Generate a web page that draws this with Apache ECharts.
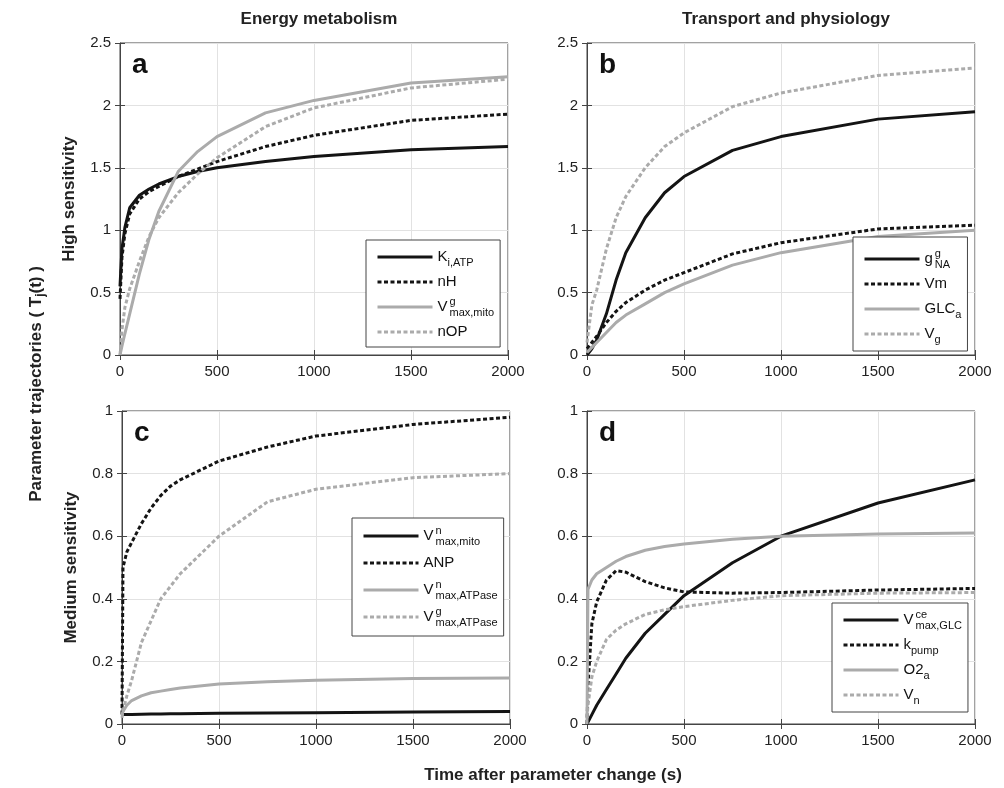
<!DOCTYPE html>
<html>
<head>
<meta charset="utf-8">
<script src="https://cdn.jsdelivr.net/npm/echarts@6/dist/echarts.min.js"></script>
<style>
  html, body { margin: 0; padding: 0; background: #fff; }
  #chart { width: 1004px; height: 788px; }
</style>
</head>
<body>
<div id="chart"></div>
<script>
// ---- data ----

// a: energy metabolism, high sensitivity
const timeA = [0, 10, 25, 50, 100, 150, 200, 300, 400, 500, 750, 1000, 1500, 2000];
const kiATP = [0.55, 0.85, 1.02, 1.18, 1.28, 1.33, 1.37, 1.43, 1.47, 1.50, 1.55, 1.59, 1.645, 1.67];
const nH = [0.45, 0.78, 0.97, 1.13, 1.25, 1.31, 1.35, 1.43, 1.49, 1.55, 1.67, 1.76, 1.88, 1.93];
const vgMaxMito = [0, 0.07, 0.17, 0.33, 0.65, 0.93, 1.15, 1.47, 1.63, 1.75, 1.94, 2.04, 2.18, 2.23];
const nOP = [0, 0.2, 0.38, 0.53, 0.75, 0.95, 1.1, 1.3, 1.45, 1.58, 1.83, 1.98, 2.14, 2.21];

// b: transport and physiology, high sensitivity
const timeB = [0, 25, 50, 100, 150, 200, 300, 400, 500, 750, 1000, 1500, 2000];
const ggNA = [0, 0.05, 0.12, 0.33, 0.6, 0.82, 1.1, 1.3, 1.43, 1.64, 1.75, 1.89, 1.95];
const vm = [0.05, 0.1, 0.15, 0.26, 0.35, 0.42, 0.52, 0.6, 0.66, 0.81, 0.90, 1.01, 1.04];
const glcA = [0.02, 0.06, 0.1, 0.18, 0.26, 0.32, 0.41, 0.5, 0.57, 0.72, 0.82, 0.95, 1.0];
const vG = [0.1, 0.4, 0.52, 0.85, 1.1, 1.27, 1.5, 1.67, 1.78, 1.99, 2.10, 2.24, 2.30];

// c: energy metabolism, medium sensitivity
const timeC = [0, 5, 25, 50, 100, 150, 200, 250, 300, 500, 750, 1000, 1500, 2000];
const vnMaxMito = [0.03, 0.03, 0.03, 0.03, 0.031, 0.032, 0.032, 0.033, 0.033, 0.034, 0.035, 0.036, 0.038, 0.04];
const anp = [0.03, 0.5, 0.55, 0.58, 0.64, 0.69, 0.73, 0.76, 0.78, 0.84, 0.885, 0.92, 0.957, 0.98];
const vnMaxATPase = [0.03, 0.04, 0.06, 0.075, 0.09, 0.1, 0.105, 0.11, 0.115, 0.128, 0.135, 0.14, 0.145, 0.147];
const vgMaxATPase = [0.02, 0.04, 0.09, 0.14, 0.26, 0.33, 0.40, 0.44, 0.48, 0.60, 0.71, 0.75, 0.787, 0.80];

// d: transport and physiology, medium sensitivity
const timeD = [0, 5, 25, 50, 100, 150, 200, 300, 400, 500, 750, 1000, 1500, 2000];
const vceMaxGLC = [0, 0.005, 0.03, 0.06, 0.11, 0.16, 0.21, 0.29, 0.35, 0.41, 0.515, 0.60, 0.706, 0.78];
const kPump = [0, 0.12, 0.32, 0.39, 0.46, 0.49, 0.485, 0.455, 0.435, 0.422, 0.418, 0.42, 0.428, 0.433];
const o2A = [0, 0.43, 0.46, 0.48, 0.50, 0.52, 0.535, 0.555, 0.567, 0.575, 0.59, 0.60, 0.607, 0.61];
const vN = [0.02, 0.06, 0.15, 0.2, 0.27, 0.3, 0.32, 0.35, 0.365, 0.375, 0.395, 0.41, 0.418, 0.42];

// ---- styling ----
const FONT = 'Liberation Sans, Arial, sans-serif';
const BLACK = '#141414';
const GRAY = '#ababab';
const DOT = [4, 2.5];

const styles = {
    blackSolid: { color: BLACK, width: 3, type: 'solid' },
    blackDot: { color: BLACK, width: 3, type: DOT },
    graySolid: { color: GRAY, width: 3, type: 'solid' },
    grayDot: { color: GRAY, width: 3, type: DOT }
};

// legend labels (rich text for sub/superscripts)
const labels = {
    'Ki,ATP': 'K{sub|i,ATP}',
    'nH': 'nH',
    'Vg max,mito': 'V{sup|g}{sub|max,mito}',
    'nOP': 'nOP',
    'gg NA': 'g{sup|g}{sub|NA}',
    'Vm': 'Vm',
    'GLCa': 'GLC{sub|a}',
    'Vg': 'V{sub|g}',
    'Vn max,mito': 'V{sup|n}{sub|max,mito}',
    'ANP': 'ANP',
    'Vn max,ATPase': 'V{sup|n}{sub|max,ATPase}',
    'Vg max,ATPase': 'V{sup|g}{sub|max,ATPase}',
    'Vce max,GLC': 'V{sup|ce}{sub|max,GLC}',
    'kpump': 'k{sub|pump}',
    'O2a': 'O2{sub|a}',
    'Vn': 'V{sub|n}'
};

const panels = [
    { grid: { left: 120, top: 43, width: 388, height: 312 }, yMax: 2.5, yStep: 0.5, yName: 'High sensitivity',
      legend: { left: 366, top: 240, gap: 3, padding: [6, 6, 4, 10] }, time: timeA,
      series: [['Ki,ATP', kiATP, 'blackSolid'], ['nH', nH, 'blackDot'], ['Vg max,mito', vgMaxMito, 'graySolid'], ['nOP', nOP, 'grayDot']] },
    { grid: { left: 587, top: 43, width: 388, height: 312 }, yMax: 2.5, yStep: 0.5, yName: '',
      legend: { left: 853, top: 237, gap: 3, padding: [11, 6, 6, 10] }, time: timeB,
      series: [['gg NA', ggNA, 'blackSolid'], ['Vm', vm, 'blackDot'], ['GLCa', glcA, 'graySolid'], ['Vg', vG, 'grayDot']] },
    { grid: { left: 122, top: 411, width: 388, height: 313 }, yMax: 1, yStep: 0.2, yName: 'Medium sensitivity',
      legend: { left: 352, top: 518, gap: 5, padding: [7, 6, 8, 10] }, time: timeC,
      series: [['Vn max,mito', vnMaxMito, 'blackSolid'], ['ANP', anp, 'blackDot'], ['Vn max,ATPase', vnMaxATPase, 'graySolid'], ['Vg max,ATPase', vgMaxATPase, 'grayDot']] },
    { grid: { left: 587, top: 411, width: 388, height: 313 }, yMax: 1, yStep: 0.2, yName: '',
      legend: { left: 832, top: 603, gap: 3, padding: [6, 6, 6, 10] }, time: timeD,
      series: [['Vce max,GLC', vceMaxGLC, 'blackSolid'], ['kpump', kPump, 'blackDot'], ['O2a', o2A, 'graySolid'], ['Vn', vN, 'grayDot']] }
];

const axisLineStyle = { color: '#444', width: 1 };
const grids = [], xAxes = [], yAxes = [], series = [], legends = [];
const plain = v => String(v);

panels.forEach((p, i) => {
    grids.push(Object.assign({ show: true, borderColor: '#444', borderWidth: 1, backgroundColor: '#fff' }, p.grid));
    xAxes.push({
        gridIndex: i, type: 'value', min: 0, max: 2000, interval: 500,
        axisLine: { lineStyle: axisLineStyle },
        axisTick: { inside: true, length: 5, lineStyle: axisLineStyle },
        axisLabel: { color: '#222', fontSize: 15, fontFamily: FONT, margin: 9, formatter: plain },
        splitLine: { show: true, lineStyle: { color: '#e2e2e2' } }
    });
    yAxes.push({
        gridIndex: i, type: 'value', min: 0, max: p.yMax, interval: p.yStep,
        name: p.yName, nameLocation: 'middle', nameGap: 42, nameRotate: 90,
        nameTextStyle: { fontSize: 17, fontWeight: 'bold', color: '#222', fontFamily: FONT },
        axisLine: { show: true, lineStyle: axisLineStyle },
        axisTick: { show: true, inside: true, length: 5, lineStyle: axisLineStyle },
        axisLabel: { color: '#222', fontSize: 15, fontFamily: FONT, margin: 9, formatter: plain },
        splitLine: { show: true, lineStyle: { color: '#e2e2e2' } }
    });
    p.series.forEach(s => {
        series.push({
            name: s[0], type: 'line', xAxisIndex: i, yAxisIndex: i,
            data: p.time.map((t, k) => [t, s[1][k]]),
            showSymbol: false, symbol: 'none', silent: true,
            lineStyle: styles[s[2]],
            itemStyle: { color: styles[s[2]].color }
        });
    });
    legends.push({
        data: p.series.map(s => s[0]),
        left: p.legend.left, top: p.legend.top,
        orient: 'vertical', itemWidth: 55, itemHeight: 12, itemGap: p.legend.gap,
        selectedMode: false,
        backgroundColor: '#fff', borderColor: '#444', borderWidth: 1,
        padding: p.legend.padding,
        itemStyle: { opacity: 0 },
        lineStyle: { width: 3 },
        formatter: name => labels[name],
        textStyle: {
            fontFamily: FONT, fontSize: 15, color: '#111', lineHeight: 22,
            rich: {
                sub: { fontSize: 11, fontFamily: FONT, color: '#111', verticalAlign: 'bottom', lineHeight: 22, padding: [9, 0, 0, 0] },
                sup: { fontSize: 11, fontFamily: FONT, color: '#111', verticalAlign: 'top', lineHeight: 22, width: 0, padding: [0, 0, 8, 2] }
            }
        }
    });
});

// secondary axes for the box ticks on top and right
panels.forEach((p, i) => {
    xAxes.push({
        gridIndex: i, type: 'value', min: 0, max: 2000, interval: 500, position: 'top',
        axisLine: { show: false }, axisLabel: { show: false }, splitLine: { show: false },
        axisTick: { inside: true, length: 5, lineStyle: axisLineStyle }
    });
    yAxes.push({
        gridIndex: i, type: 'value', min: 0, max: p.yMax, interval: p.yStep, position: 'right',
        axisLine: { show: false }, axisLabel: { show: false }, splitLine: { show: false },
        axisTick: { show: true, inside: true, length: 5, lineStyle: axisLineStyle }
    });
});

const letterStyle = { fontSize: 28, fontWeight: 'bold', color: '#111', fontFamily: FONT };
const headStyle = { fontSize: 17, fontWeight: 'bold', color: '#222', fontFamily: FONT };

const option = {
    animation: false,
    backgroundColor: '#fff',
    title: [
        { text: 'Energy metabolism', left: 314, top: 6, textAlign: 'center', textStyle: headStyle },
        { text: 'Transport and physiology', left: 781, top: 6, textAlign: 'center', textStyle: headStyle },
        { text: 'a', left: 127, top: 46, textStyle: letterStyle },
        { text: 'b', left: 594, top: 46, textStyle: letterStyle },
        { text: 'c', left: 129, top: 414, textStyle: letterStyle },
        { text: 'd', left: 594, top: 414, textStyle: letterStyle },
        { text: 'Time after parameter change (s)', left: 548, top: 762, textAlign: 'center', textStyle: headStyle }
    ],
    graphic: [{
        type: 'text', x: 36, y: 384, rotation: Math.PI / 2,
        style: {
            text: 'Parameter trajectories ( T{sub|j}(t) )',
            fontSize: 17, fontWeight: 'bold', fill: '#222', fontFamily: FONT,
            align: 'center', verticalAlign: 'middle',
            rich: { sub: { fontSize: 12, fontWeight: 'bold', fill: '#222', fontFamily: FONT, padding: [10, 0, 0, 0] } }
        }
    }],
    legend: legends,
    grid: grids,
    xAxis: xAxes,
    yAxis: yAxes,
    series: series
};

const chart = echarts.init(document.getElementById('chart'));
chart.setOption(option);
</script>
</body>
</html>
